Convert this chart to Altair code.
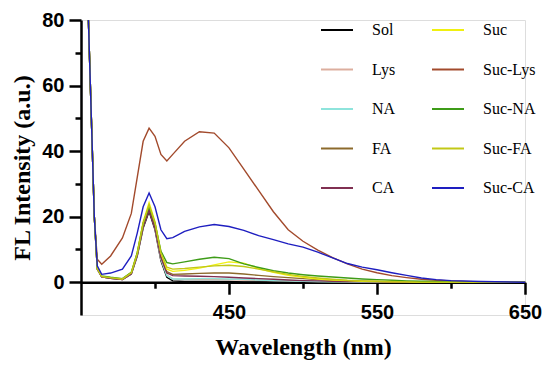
import altair as alt
import pandas as pd

wavelength = [355, 357, 359, 361, 364, 370, 378, 384, 388, 392, 396, 400, 404, 408, 412,
              420, 430, 440, 450, 460, 470, 480, 490, 500, 510, 520, 530, 540, 550, 560,
              570, 580, 590, 600, 620, 650]

# legend fills column by column: left column = plain samples, right column = Suc- samples
series_names = ["Sol", "Lys", "NA", "FA", "CA", "Suc", "Suc-Lys", "Suc-NA", "Suc-FA", "Suc-CA"]
series_colors = ["#000000", "#dcae9e", "#8ee4dc", "#8c6a2c", "#803052",
                 "#f0f010", "#a24a2c", "#3e9c18", "#c2c816", "#1e1ec0"]

sol = [80, 50, 20, 4.0, 1.6, 1.2, 0.8, 2.5, 8.0, 16.5, 21.6, 16.0, 6.5, 1.5, 0.4, 0.2, 0.2, 0.2,
       0.2, 0.1, 0.1, 0.1, 0.1, 0.1, 0, 0, 0, 0, 0, 0, 0, 0, 0, 0, 0, 0]
lys = [80, 50, 20, 4.0, 1.6, 1.2, 0.8, 2.6, 8.3, 17.0, 22.2, 16.5, 7.0, 2.2, 1.0, 0.9, 0.9, 0.9,
       0.8, 0.7, 0.6, 0.5, 0.4, 0.3, 0.2, 0.2, 0.1, 0.1, 0.1, 0, 0, 0, 0, 0, 0, 0]
na = [80, 50, 20, 4.1, 1.7, 1.3, 0.9, 2.7, 8.5, 17.5, 22.6, 17.0, 7.2, 2.0, 1.0, 1.0, 1.1, 1.1,
      1.0, 0.9, 0.7, 0.5, 0.4, 0.3, 0.2, 0.1, 0.1, 0, 0, 0, 0, 0, 0, 0, 0, 0]
fa = [80, 50, 20, 4.1, 1.7, 1.3, 0.9, 2.7, 8.5, 17.5, 22.6, 17.0, 8.0, 3.2, 2.4, 2.5, 2.7, 2.8,
      2.8, 2.5, 2.1, 1.7, 1.4, 1.1, 0.8, 0.6, 0.4, 0.3, 0.2, 0.1, 0.1, 0, 0, 0, 0, 0]
ca = [80, 50, 20, 4.0, 1.6, 1.2, 0.8, 2.6, 8.3, 17.0, 22.0, 16.5, 7.5, 2.8, 2.0, 1.9, 1.8, 1.7,
      1.5, 1.3, 1.1, 0.9, 0.7, 0.5, 0.4, 0.3, 0.2, 0.1, 0.1, 0, 0, 0, 0, 0, 0, 0]
suc = [80, 50, 20, 4.2, 1.8, 1.4, 1.0, 3.0, 9.0, 18.5, 24.3, 18.5, 9.0, 4.0, 3.3, 3.6, 4.3, 5.3,
       6.2, 5.8, 4.2, 3.0, 2.1, 1.5, 1.0, 0.7, 0.5, 0.3, 0.2, 0.1, 0.1, 0, 0, 0, 0, 0]
suc_lys = [80, 50, 20, 7.0, 5.5, 8.0, 13.5, 21.0, 32.0, 43.0, 47.0, 44.5, 39.0, 37.0, 39.0, 43.0,
           45.9, 45.5, 41.0, 34.5, 28.0, 21.5, 16.0, 12.5, 9.8, 7.5, 5.6, 4.0, 2.9, 2.0, 1.4,
           0.9, 0.6, 0.4, 0.1, 0]
suc_na = [80, 50, 20, 4.3, 1.9, 1.5, 1.1, 3.0, 9.0, 18.0, 23.2, 18.0, 9.5, 6.0, 5.6, 6.2, 7.0,
          7.6, 7.2, 5.6, 4.5, 3.5, 2.8, 2.3, 1.9, 1.6, 1.3, 1.0, 0.8, 0.6, 0.4, 0.3, 0.2, 0.1, 0, 0]
suc_fa = [80, 50, 20, 4.2, 1.8, 1.4, 1.0, 2.9, 8.8, 18.0, 23.6, 18.0, 9.0, 4.6, 4.0, 4.2, 4.6,
          5.0, 5.2, 4.8, 4.0, 3.2, 2.4, 1.8, 1.3, 0.9, 0.6, 0.4, 0.3, 0.2, 0.1, 0, 0, 0, 0, 0]
suc_ca = [80, 50, 20, 5.0, 2.4, 2.8, 4.0, 8.0, 15.0, 23.0, 27.2, 23.0, 16.0, 13.3, 13.6, 15.5,
          16.9, 17.6, 17.0, 15.8, 14.2, 13.0, 11.7, 10.7, 9.2, 7.4, 5.7, 4.6, 3.8, 2.9, 2.1,
          1.3, 0.8, 0.5, 0.2, 0]

series_values = [sol, lys, na, fa, ca, suc, suc_lys, suc_na, suc_fa, suc_ca]

x_ticks = [400, 450, 500, 550, 600, 650]
y_ticks = [0, 10, 20, 30, 40, 50, 60, 70, 80]

rows = []
for name, vals in zip(series_names, series_values):
    for w, v in zip(wavelength, vals):
        rows.append({"Wavelength": w, "Intensity": v, "Sample": name})
df = pd.DataFrame(rows)

W, H = 444, 295
y_min, y_max = -10, 80
x_offset = -H * (0 - y_min) / (y_max - y_min)

x_axis = alt.Axis(
    title="Wavelength (nm)",
    values=x_ticks,
    labelExpr="datum.value % 100 === 50 ? datum.label : ''",
    tickSize={"condition": {"test": "datum.value % 100 === 50", "value": 12}, "value": 6},
    offset=x_offset,
    grid=False,
    domainColor="black", domainWidth=2.5,
    tickColor="black", tickWidth=2.5,
    labelFont="Liberation Sans", labelFontWeight="bold", labelFontSize=20,
    labelColor="black", labelPadding=8, labelFlush=False, labelOverlap=False,
    titleFont="Liberation Serif", titleFontWeight="bold", titleFontSize=24,
    titleColor="black", titlePadding=13,
)

y_axis = alt.Axis(
    title="FL Intensity (a.u.)",
    values=y_ticks,
    labelExpr="datum.value % 20 === 0 ? datum.label : ''",
    tickSize={"condition": {"test": "datum.value % 20 === 0", "value": 12}, "value": 6},
    grid=False,
    domainColor="black", domainWidth=2.5,
    tickColor="black", tickWidth=2.5,
    labelFont="Liberation Sans", labelFontWeight="bold", labelFontSize=20,
    labelColor="black", labelPadding=5, labelOverlap=False,
    titleFont="Liberation Serif", titleFontWeight="bold", titleFontSize=24,
    titleColor="black", titlePadding=7,
)

legend = alt.Legend(
    title=None, orient="none", legendX=239, legendY=-7, columns=2,
    symbolType="stroke", symbolSize=1024, symbolStrokeWidth=2,
    labelFont="Liberation Serif", labelFontSize=16, labelColor="black",
    labelOffset=18, rowPadding=14.5, columnPadding=32, padding=0, labelLimit=0,
)

chart = alt.Chart(df).mark_line(strokeWidth=1.4, clip=True).encode(
    x=alt.X("Wavelength:Q", scale=alt.Scale(domain=[350, 650], nice=False, zero=False), axis=x_axis),
    y=alt.Y("Intensity:Q", scale=alt.Scale(domain=[y_min, y_max], nice=False), axis=y_axis),
    color=alt.Color("Sample:N", scale=alt.Scale(domain=series_names, range=series_colors),
                    sort=series_names, legend=legend),
).properties(
    width=W, height=H,
    autosize=alt.AutoSizeParams(type="none"),
    padding={"left": 73, "top": 12, "right": 17, "bottom": 46},
).configure_view(stroke=None).configure(background="white")

chart.save("out.html", embed_options={"renderer": "svg", "actions": False})
